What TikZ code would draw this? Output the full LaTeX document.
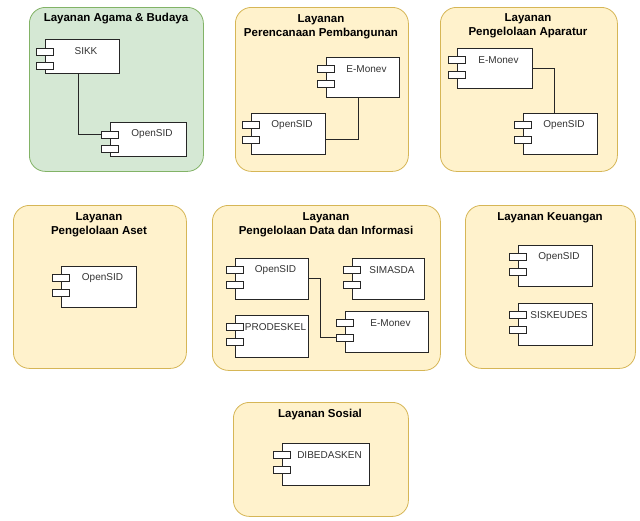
\documentclass[tikz,border=0pt]{standalone}
\usepackage{fontspec}
\setmainfont{Liberation Sans}
\usetikzlibrary{calc}
\definecolor{gfill}{HTML}{D5E8D4}
\definecolor{gline}{HTML}{82B366}
\definecolor{yfill}{HTML}{FFF2CC}
\definecolor{yline}{HTML}{D6B656}
\tikzset{
  contbox/.style={rectangle, rounded corners=16pt, line width=0.8pt, inner sep=0pt, anchor=north west},
  greenbox/.style={contbox, draw=gline, fill=gfill},
  yellowbox/.style={contbox, draw=yline, fill=yfill},
  ctitle/.style={font=\bfseries\fontsize{11.5}{14}\selectfont, align=center, inner sep=0pt},
  comprect/.style={rectangle, draw=black!85, fill=white, line width=0.7pt, inner sep=0pt, outer sep=0pt, anchor=north west},
  port/.style={rectangle, draw=black!85, fill=white, line width=0.7pt, inner sep=0pt, outer sep=0pt, minimum width=17pt, minimum height=7.5pt, anchor=north west},
  complbl/.style={font=\fontsize{10}{12}\selectfont, text=black!80, anchor=center, yshift=-12pt, xshift=4pt, inner sep=0pt},
  conn/.style={draw=black!85, line width=0.7pt}
}
\newcommand\compo[6]{%
  \pgfmathsetmacro\pportb{min(23,#5-9.5)}%
  \pgfmathsetmacro\pporta{ifthenelse(#5<36,9,8)}%
  \node[comprect, minimum width=#4pt, minimum height=#5pt, label={[complbl]north:#6}] (#1) at (#2,#3) {};
  \node[port] (#1-p1) at ($(#1.north west)+(-8.5,\pporta)$) {};
  \node[port] (#1-p2) at ($(#1.north west)+(-8.5,\pportb)$) {};
}
\begin{document}
\begin{tikzpicture}[x=1pt,y=-1pt]
\path[use as bounding box, fill=white] (0,0) rectangle (640,520);

% containers
\node[greenbox, minimum width=174pt, minimum height=164pt] (c1) at (29,7) {};
\node[yellowbox, minimum width=173pt, minimum height=164pt] (c2) at (235,7) {};
\node[yellowbox, minimum width=177pt, minimum height=164pt] (c3) at (440,7) {};
\node[yellowbox, minimum width=173pt, minimum height=163pt] (c4) at (13,205) {};
\node[yellowbox, minimum width=228pt, minimum height=165pt] (c5) at (212,205) {};
\node[yellowbox, minimum width=170pt, minimum height=163pt] (c6) at (465,205) {};
\node[yellowbox, minimum width=175pt, minimum height=114pt] (c7) at (233,402) {};

% titles
\node[ctitle] (t1) at (116,19) {Layanan Agama \& Budaya};
\node[ctitle] (t2) at (321,26.5) {Layanan\\Perencanaan Pembangunan};
\node[ctitle] (t3) at (528,25.5) {Layanan\\Pengelolaan Aparatur};
\node[ctitle] (t4) at (99,225) {Layanan\\Pengelolaan Aset};
\node[ctitle] (t5) at (326,225) {Layanan\\Pengelolaan Data dan Informasi};
\node[ctitle] (t6) at (550,218) {Layanan Keuangan};
\node[ctitle] (t7) at (320,415) {Layanan Sosial};

% components
\compo{sikk}{45}{39}{74}{34}{SIKK}
\compo{os1}{110}{122}{76}{34}{OpenSID}
\compo{em2}{326}{57}{73}{40}{E-Monev}
\compo{os2}{251}{113}{74}{41}{OpenSID}
\compo{em3}{457}{48}{75}{40}{E-Monev}
\compo{os3}{523}{113}{74}{41}{OpenSID}
\compo{os4}{61}{266}{75}{41}{OpenSID}
\compo{os5}{235}{258}{73}{41}{OpenSID}
\compo{sim5}{352}{258}{72}{41}{SIMASDA}
\compo{pro5}{235}{315}{73}{42}{PRODESKEL}
\compo{em5}{345}{311}{83}{41}{E-Monev}
\compo{os6}{518}{245}{74}{41}{OpenSID}
\compo{sis6}{518}{303}{74}{42}{SISKEUDES}
\compo{dib7}{282}{443}{87}{42}{DIBEDASKEN}

% connectors
\draw[conn] ($(sikk.south west)+(33,0)$) |- (os1-p1.west);
\draw[conn] ($(em2.south west)+(32,0)$) |- ($(os2.north east)+(0,26)$);
\draw[conn] (em3.east) -| ($(os3.north west)+(31,0)$);
\draw[conn] (os5.east) -- ++(12,0) |- (em5-p2.west);
\end{tikzpicture}
\end{document}
